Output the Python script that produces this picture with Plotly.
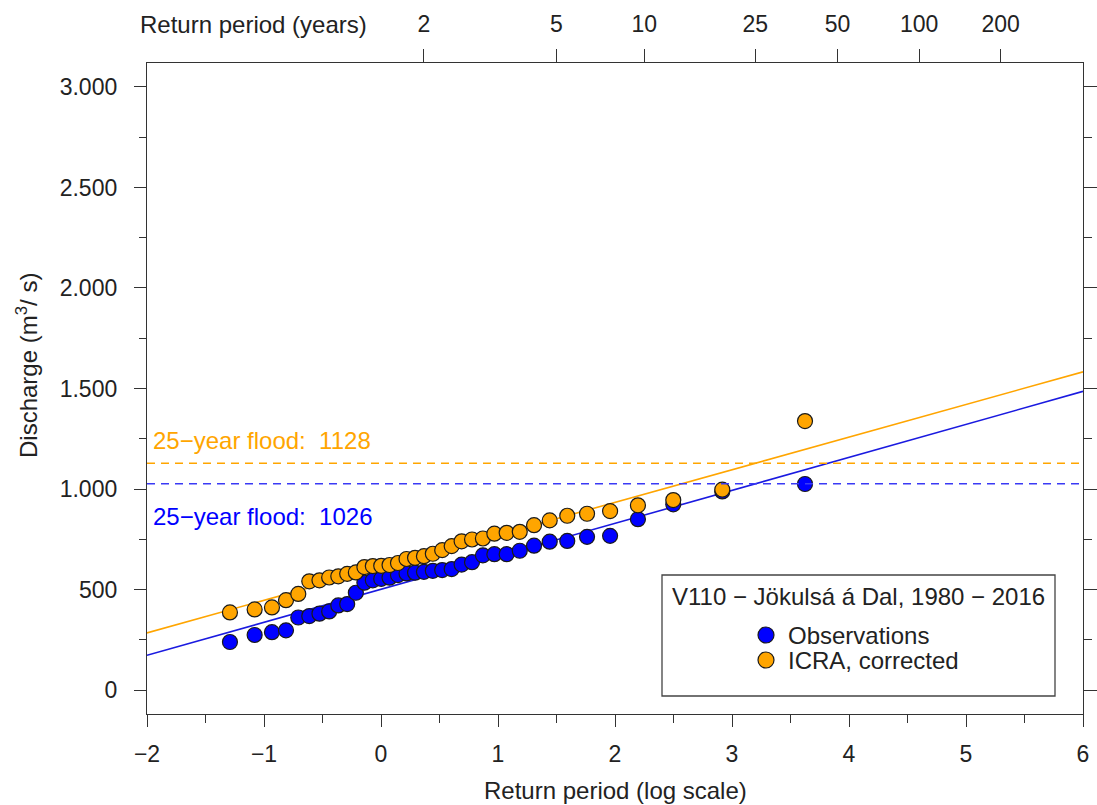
import math
import plotly.graph_objects as go

# ---------------- data ----------------
# Gumbel reduced variate (plotting positions) of the 37 annual maxima 1980-2016
reduced_variate = [-1.291, -1.080, -0.932, -0.812, -0.707, -0.613, -0.526, -0.443,
                   -0.365, -0.289, -0.215, -0.142, -0.070, 0.002, 0.073, 0.145,
                   0.218, 0.291, 0.367, 0.443, 0.523, 0.604, 0.689, 0.778,
                   0.871, 0.969, 1.074, 1.186, 1.308, 1.442, 1.592, 1.761,
                   1.958, 2.196, 2.498, 2.917, 3.624]
observations = [239, 274, 288, 297, 361, 368, 380, 391, 421, 428, 484, 534, 546,
                553, 559, 572, 580, 584, 588, 593, 597, 602, 624, 636, 670, 676,
                676, 693, 718, 738, 742, 762, 767, 850, 924, 988, 1025]
icra_corrected = [386, 401, 411, 447, 478, 541, 546, 560, 566, 578, 585, 612, 617,
                  618, 622, 632, 652, 658, 666, 678, 696, 716, 740, 749, 754, 778,
                  782, 787, 820, 844, 867, 877, 890, 919, 945, 997, 1338]

# Gumbel fits (location, scale)
fit_obs = (501.1, 164.1)
fit_icra = (609.0, 162.3)
flood25_obs = 1026
flood25_icra = 1128

series_names = ["Observations", "ICRA, corrected"]
legend_title = "V110 \u2212 Jökulsá á Dal, 1980 \u2212 2016"

x_ticks = [-2, -1, 0, 1, 2, 3, 4, 5, 6]
y_ticks = [0, 500, 1000, 1500, 2000, 2500, 3000]
y_ticktext = ["0", "500", "1.000", "1.500", "2.000", "2.500", "3.000"]
return_periods = [2, 5, 10, 25, 50, 100, 200]

# ---------------- styling ----------------
FONT = "Liberation Sans, Arial, Helvetica, sans-serif"
FS = 23
FS_TXT = 24
TXT = "#222222"
AX = "#333333"
BLUE = "#0000FF"
BLUE_LINE = "#1a1ae0"
BLUE_DASH = "#3a3af5"
ORANGE = "#FFA500"

X_RANGE = [-2, 6]
Y_RANGE = [-119, 3119]

W, H = 1097, 805
ML, MR, MT, MB = 147, 14, 63, 91
PW = W - ML - MR
PH = H - MT - MB


def px2paper_x(p):
    return (p - ML) / PW


def px2paper_y(p):
    return (H - MB - p) / PH


fig = go.Figure()

# fitted Gumbel lines across the axis range
for (loc, scale), col in [(fit_obs, BLUE_LINE), (fit_icra, ORANGE)]:
    fig.add_trace(go.Scatter(
        x=X_RANGE, y=[loc + scale * X_RANGE[0], loc + scale * X_RANGE[1]],
        mode="lines", line=dict(color=col, width=1.6), showlegend=False,
        hoverinfo="skip"))

# 25-year flood dashed lines (drawn on the secondary top/right axes so they render)
for val, col in [(flood25_icra, ORANGE), (flood25_obs, BLUE_DASH)]:
    fig.add_trace(go.Scatter(
        x=X_RANGE, y=[val, val], mode="lines", xaxis="x2", yaxis="y2",
        line=dict(color=col, width=1.6, dash="8px,6px"),
        showlegend=False, hoverinfo="skip"))

# points
fig.add_trace(go.Scatter(
    x=reduced_variate, y=observations, mode="markers", name=series_names[0],
    marker=dict(size=15, color=BLUE, line=dict(color="#1a1a1a", width=1.2)),
    showlegend=False))
fig.add_trace(go.Scatter(
    x=reduced_variate, y=icra_corrected, mode="markers", name=series_names[1],
    marker=dict(size=15, color=ORANGE, line=dict(color="#1a1a1a", width=1.2)),
    showlegend=False))

# top axis positions from return periods (Gumbel transform)
top_vals = [-math.log(-math.log(1 - 1 / T)) for T in return_periods]

axis_common = dict(showgrid=False, zeroline=False, showline=True,
                   linecolor=AX, linewidth=1.3, ticks="outside",
                   tickcolor=AX, tickwidth=1.3, automargin=False,
                   tickfont=dict(family=FONT, size=FS, color=TXT))

fig.update_layout(
    width=W, height=H,
    margin=dict(l=ML, r=MR, t=MT, b=MB, pad=0, autoexpand=False),
    plot_bgcolor="white", paper_bgcolor="white",
    font=dict(family=FONT, size=FS, color=TXT),
    showlegend=False,
    xaxis=dict(range=X_RANGE, tickvals=x_ticks, ticklen=12,
               ticklabelstandoff=7,
               minor=dict(dtick=0.5, tick0=0, ticklen=8, ticks="outside",
                          tickcolor=AX, tickwidth=1.3),
               **axis_common),
    yaxis=dict(range=Y_RANGE, tickvals=y_ticks, ticktext=y_ticktext,
               ticklen=12, ticklabelstandoff=12,
               minor=dict(dtick=250, tick0=0, ticklen=7, ticks="outside",
                          tickcolor=AX, tickwidth=1.3),
               **axis_common),
    xaxis2=dict(range=X_RANGE, overlaying="x", side="top", anchor="y2",
                tickvals=top_vals, ticktext=[str(t) for t in return_periods],
                ticklen=13, ticklabelstandoff=8, **axis_common),
    yaxis2=dict(range=Y_RANGE, overlaying="y", side="right", anchor="x2",
                tickvals=y_ticks, showticklabels=False, ticklen=13,
                minor=dict(dtick=250, tick0=0, ticklen=8, ticks="outside",
                           tickcolor=AX, tickwidth=1.3),
                **axis_common),
)

ann = []
# axis titles
ann.append(dict(text="Return period (log scale)", xref="paper", yref="paper",
                x=px2paper_x(615), y=px2paper_y(790), xanchor="center",
                yanchor="middle", showarrow=False,
                font=dict(family=FONT, size=FS_TXT, color=TXT)))
ann.append(dict(text="Discharge (m<sup>3</sup>/ s)", xref="paper", yref="paper",
                x=px2paper_x(27), y=px2paper_y(366), xanchor="center",
                yanchor="middle", textangle=-90, showarrow=False,
                font=dict(family=FONT, size=FS_TXT, color=TXT)))
ann.append(dict(text="Return period (years)", xref="paper", yref="paper",
                x=px2paper_x(253), y=px2paper_y(25), xanchor="center",
                yanchor="middle", showarrow=False,
                font=dict(family=FONT, size=FS_TXT, color=TXT)))
# flood labels
ann.append(dict(text=f"25\u2212year flood:  {flood25_icra}", xref="x", yref="y",
                x=X_RANGE[0], y=flood25_icra, xanchor="left", yanchor="middle",
                xshift=4, yshift=23, showarrow=False,
                font=dict(family=FONT, size=FS_TXT, color=ORANGE)))
ann.append(dict(text=f"25\u2212year flood:  {flood25_obs}", xref="x", yref="y",
                x=X_RANGE[0], y=flood25_obs, xanchor="left", yanchor="middle",
                xshift=4, yshift=-33, showarrow=False,
                font=dict(family=FONT, size=FS_TXT, color=BLUE)))

# manual legend
ann.append(dict(text=legend_title, xref="paper", yref="paper",
                x=px2paper_x(858), y=px2paper_y(596), xanchor="center",
                yanchor="middle", showarrow=False,
                font=dict(family=FONT, size=FS_TXT, color=TXT)))
legend_rows = [(series_names[0], BLUE, 635), (series_names[1], ORANGE, 660)]
shapes = [dict(type="rect", xref="paper", yref="paper",
               x0=px2paper_x(662), x1=px2paper_x(1055),
               y0=px2paper_y(696), y1=px2paper_y(575),
               line=dict(color="#444444", width=1.3), fillcolor="white",
               layer="below")]
for name, col, ypix in legend_rows:
    ann.append(dict(text=name, xref="paper", yref="paper",
                    x=px2paper_x(786), y=px2paper_y(ypix), xanchor="left",
                    yanchor="middle", showarrow=False,
                    font=dict(family=FONT, size=FS_TXT, color=TXT)))
    shapes.append(dict(type="circle", xref="paper", yref="paper",
                       xsizemode="pixel", ysizemode="pixel",
                       xanchor=px2paper_x(766), yanchor=px2paper_y(ypix),
                       x0=-8, x1=8, y0=-8, y1=8,
                       fillcolor=col, line=dict(color="#1a1a1a", width=1.2)))

fig.update_layout(annotations=ann, shapes=shapes)

fig.write_html("out.html")
